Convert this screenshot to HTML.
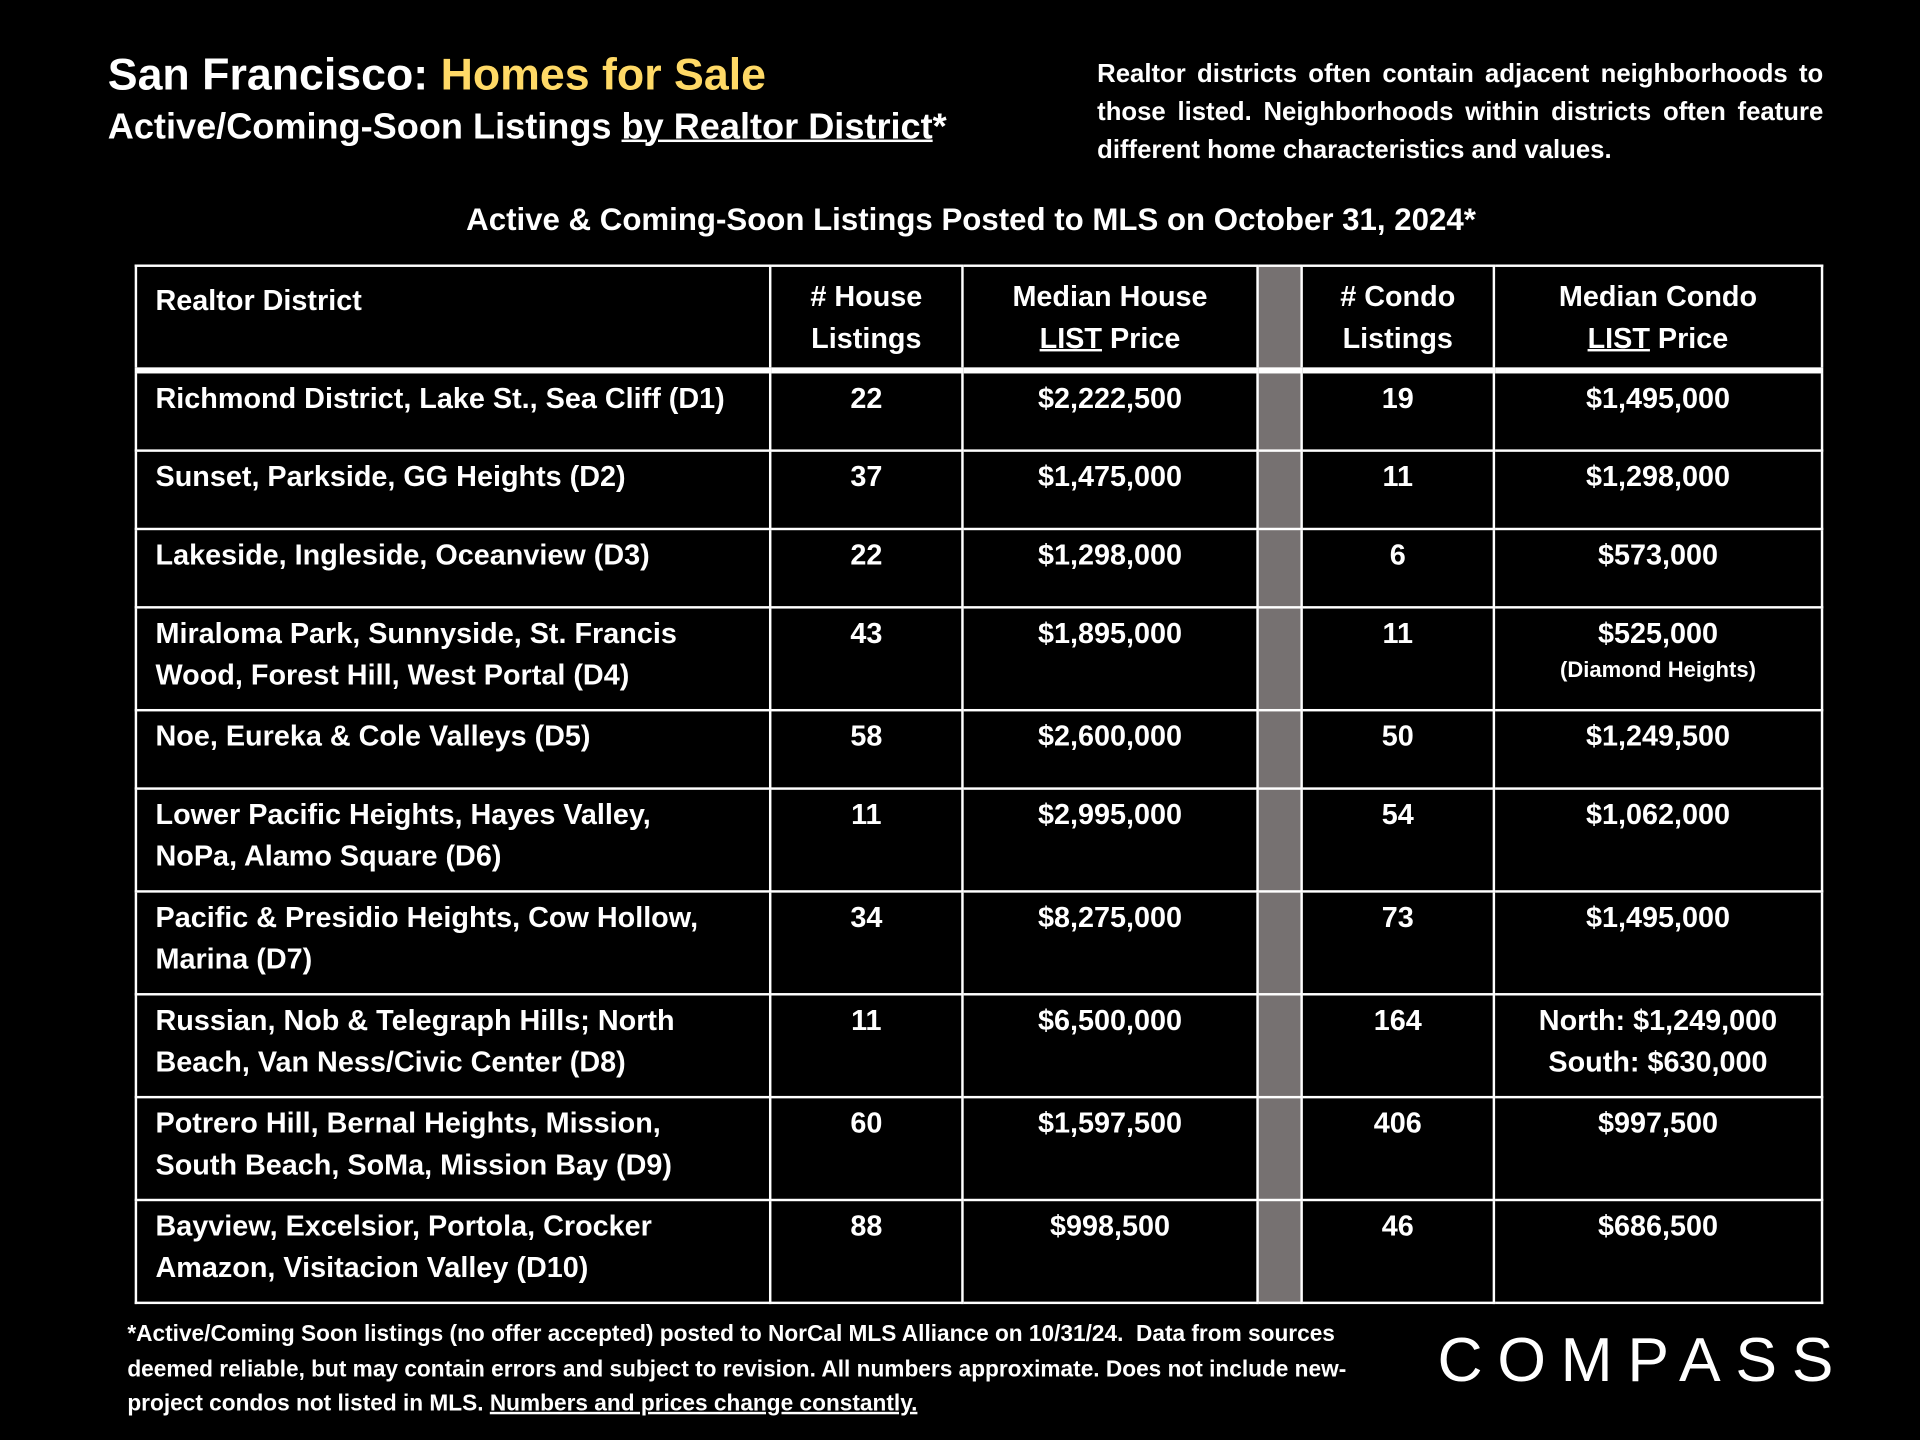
<!DOCTYPE html>
<html><head><meta charset="utf-8">
<style>
html,body{margin:0;padding:0;background:#000;width:1920px;height:1440px;overflow:hidden}
#s{position:absolute;left:0;top:0;width:1568px;height:1176px;transform:scale(1.22449);transform-origin:0 0;font-family:"Liberation Sans",sans-serif;font-weight:bold;color:#fff}
.a{position:absolute}
table{position:absolute;left:110px;top:216px;width:1377px;border-collapse:collapse;table-layout:fixed}
td{border:2px solid #fff;vertical-align:top;font-size:23.5px;line-height:34px;padding:3px 0 0 0;text-align:center;white-space:nowrap}
td.l{text-align:left;padding-left:15px}
td.g{background:#767171}
tr.h td{height:72px;border-bottom:5px solid #fff;padding-top:7px}
tr.r1 td{height:59px}
tr.r2 td{height:79px}
small{font-size:18px;line-height:26px;display:block}
u{text-decoration-thickness:2px}
</style></head><body>
<div id="s">
<div class="a" style="left:88px;top:40px;font-size:36.5px">San Francisco: <span style="color:#ffd966">Homes for Sale</span></div>
<div class="a" style="left:88px;top:87px;font-size:29.5px">Active/Coming-Soon Listings <u>by Realtor District</u>*</div>
<div class="a" style="left:896px;top:45px;width:593px;font-size:21px;line-height:31px;text-align:justify;text-align-last:left">Realtor districts often contain adjacent neighborhoods to those listed. Neighborhoods within districts often feature different home characteristics and values.</div>
<div class="a" style="left:110px;width:1366px;top:166px;text-align:center;font-size:25.5px">Active &amp; Coming-Soon Listings Posted to MLS on October 31, 2024*</div>
<table>
<colgroup><col style="width:518px"><col style="width:157px"><col style="width:241px"><col style="width:36px"><col style="width:157px"><col style="width:268px"></colgroup>
<tr class="h"><td class="l" style="padding-top:10px">Realtor District</td><td># House<br>Listings</td><td>Median House<br><u>LIST</u> Price</td><td class="g"></td><td># Condo<br>Listings</td><td>Median Condo<br><u>LIST</u> Price</td></tr>
<tr class="r1"><td class="l">Richmond District, Lake St., Sea Cliff (D1)</td><td>22</td><td>$2,222,500</td><td class="g"></td><td>19</td><td>$1,495,000</td></tr>
<tr class="r1"><td class="l">Sunset, Parkside, GG Heights (D2)</td><td>37</td><td>$1,475,000</td><td class="g"></td><td>11</td><td>$1,298,000</td></tr>
<tr class="r1"><td class="l">Lakeside, Ingleside, Oceanview (D3)</td><td>22</td><td>$1,298,000</td><td class="g"></td><td>6</td><td>$573,000</td></tr>
<tr class="r2"><td class="l">Miraloma Park, Sunnyside, St. Francis<br>Wood, Forest Hill, West Portal (D4)</td><td>43</td><td>$1,895,000</td><td class="g"></td><td>11</td><td>$525,000<small>(Diamond Heights)</small></td></tr>
<tr class="r1"><td class="l">Noe, Eureka &amp; Cole Valleys (D5)</td><td>58</td><td>$2,600,000</td><td class="g"></td><td>50</td><td>$1,249,500</td></tr>
<tr class="r2"><td class="l">Lower Pacific Heights, Hayes Valley,<br>NoPa, Alamo Square (D6)</td><td>11</td><td>$2,995,000</td><td class="g"></td><td>54</td><td>$1,062,000</td></tr>
<tr class="r2"><td class="l">Pacific &amp; Presidio Heights, Cow Hollow,<br>Marina (D7)</td><td>34</td><td>$8,275,000</td><td class="g"></td><td>73</td><td>$1,495,000</td></tr>
<tr class="r2"><td class="l">Russian, Nob &amp; Telegraph Hills; North<br>Beach, Van Ness/Civic Center (D8)</td><td>11</td><td>$6,500,000</td><td class="g"></td><td>164</td><td>North: $1,249,000<br>South: $630,000</td></tr>
<tr class="r2"><td class="l">Potrero Hill, Bernal Heights, Mission,<br>South Beach, SoMa, Mission Bay (D9)</td><td>60</td><td>$1,597,500</td><td class="g"></td><td>406</td><td>$997,500</td></tr>
<tr class="r2"><td class="l">Bayview, Excelsior, Portola, Crocker<br>Amazon, Visitacion Valley (D10)</td><td>88</td><td>$998,500</td><td class="g"></td><td>46</td><td>$686,500</td></tr>
</table>
<div class="a" style="left:104px;top:1075px;width:1045px;font-size:18.5px;line-height:28.5px">*Active/Coming Soon listings (no offer accepted) posted to NorCal MLS Alliance on 10/31/24.&nbsp; Data from sources deemed reliable, but may contain errors and subject to revision. All numbers approximate. Does not include new-project condos not listed in MLS. <u>Numbers and prices change constantly.</u></div>
<div class="a" style="left:1174px;top:1081px;font-size:51px;font-weight:normal;letter-spacing:12px;line-height:60px">COMPASS</div>
</div>
</body></html>
